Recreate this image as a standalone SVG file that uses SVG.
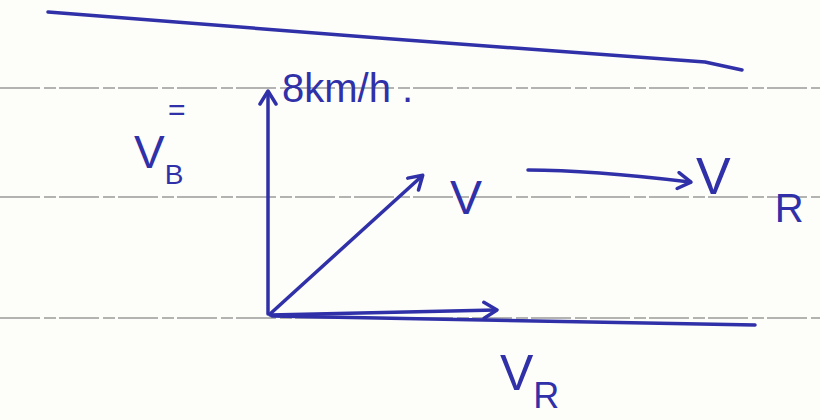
<svg xmlns="http://www.w3.org/2000/svg" width="820" height="420" viewBox="0 0 820 420">
<defs>
<style>
.rule{stroke:#9a9a9a;stroke-width:1.6;fill:none;stroke-dasharray:40 4 12 3}
.ink{stroke:#3030a8;stroke-width:3.5;fill:none;stroke-linecap:round;stroke-linejoin:round}
.t{fill:#3030a8;font-family:"Liberation Sans",Arial,sans-serif}
</style>
<marker id="ah" viewBox="0 0 20 20" refX="16" refY="10" markerWidth="20" markerHeight="20" markerUnits="userSpaceOnUse" orient="auto">
<path d="M4,2 L17,10 L4,18" fill="none" stroke="#3030a8" stroke-width="3.5" stroke-linecap="round" stroke-linejoin="round"/>
</marker>
</defs>
<rect width="820" height="420" fill="#fdfdfa"/>
<g id="ruled-paper">
<line class="rule" x1="0" y1="88" x2="820" y2="88"/>
<line class="rule" x1="0" y1="197" x2="820" y2="197"/>
<line class="rule" x1="0" y1="318" x2="820" y2="318"/>
</g>
<g id="banks">
<path class="ink" d="M48,12 C250,28 500,48 705,62 L742,70"/>
<path class="ink" d="M272,316 L755,325"/>
</g>
<g id="connectors">
<path class="ink" d="M268,314 L268,92" marker-end="url(#ah)"/>
<path class="ink" d="M270,314 L422,176" marker-end="url(#ah)"/>
<path class="ink" d="M270,315 L496,310" marker-end="url(#ah)"/>
<path class="ink" d="M528,170 C580,170 640,176 690,182" marker-end="url(#ah)"/>
</g>
<g id="labels">
<text class="t" x="134" y="168" font-size="46">V<tspan dy="16" font-size="28">B</tspan></text>
<text class="t" x="168" y="120" font-size="30">=</text>
<text class="t" x="282" y="102" font-size="40">8km/h .</text>
<text class="t" x="450" y="214" font-size="48">V</text>
<text class="t" x="696" y="194" font-size="52">V<tspan dx="44" dy="28" font-size="40">R</tspan></text>
<text class="t" x="500" y="390" font-size="50">V<tspan dy="18" font-size="36">R</tspan></text>
</g>
</svg>
